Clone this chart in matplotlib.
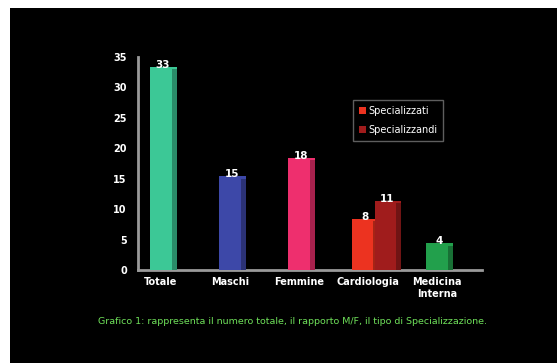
import numpy as np
import matplotlib
matplotlib.use("Agg")
import matplotlib.pyplot as plt
from matplotlib.patches import Rectangle
from matplotlib.colors import to_rgb

categories = ["Totale", "Maschi", "Femmine", "Cardiologia", "Medicina\nInterna"]
single_values = [33, 15, 18, None, 4]
single_colors = ["#3cc896", "#3d48a8", "#ee2f6e", None, "#22a04c"]
cardio_labels = ["Specializzati", "Specializzandi"]
cardio_values = [8, 11]
cardio_colors = ["#ec3320", "#a01c1c"]
yticks = [0, 5, 10, 15, 20, 25, 30, 35]
caption = "Grafico 1: rappresenta il numero totale, il rapporto M/F, il tipo di Specializzazione."


def darker(c, f=0.7):
    r, g, b = to_rgb(c)
    return (r * f, g * f, b * f)


def bar3d(ax, x, h, w, color, label=None):
    # front face plus a darker side strip to fake the 3D look
    ax.bar(x, h, width=w, color=color, align="center", label=label, zorder=3)
    ax.bar(x + w * 0.5, h, width=w * 0.25, color=darker(color), align="edge", zorder=3)
    ax.bar(x - w * 0.5, 0.4, bottom=h, width=w * 1.25, color=color, align="edge", zorder=3)
    ax.text(x + w * 0.1, h - 0.1, str(h), color="white", fontsize=7.5,
            fontweight="bold", ha="center", va="bottom", zorder=4)


fig = plt.figure(figsize=(5.57, 3.63), dpi=100, facecolor="white")
fig.patches.append(Rectangle((10 / 557, 0), 1, 1 - 8 / 363, transform=fig.transFigure,
                             facecolor="black", edgecolor="none", zorder=-5))
ax = fig.add_axes([138 / 557, 1 - 270 / 363, (482 - 138) / 557, (270 - 57) / 363])
ax.set_facecolor("black")
ax.patch.set_alpha(0)

x = np.arange(len(categories))
w = 0.31
for i, (v, c) in enumerate(zip(single_values, single_colors)):
    if v is not None:
        bar3d(ax, x[i], v, w, c)
bar3d(ax, x[3] - 0.08, cardio_values[0], w, cardio_colors[0], cardio_labels[0])
bar3d(ax, x[3] + 0.25, cardio_values[1], w, cardio_colors[1], cardio_labels[1])

ax.set_xlim(-0.33, 4.65)
ax.set_ylim(0, 35)
ax.set_yticks(yticks)
ax.set_xticks(x)
ax.set_xticklabels(categories)
ax.tick_params(colors="white", length=0, labelsize=7)
for lab in ax.get_xticklabels() + ax.get_yticklabels():
    lab.set_fontweight("bold")
    lab.set_color("white")
ax.tick_params(axis="y", pad=8)
ax.tick_params(axis="x", pad=5)
for s in ["top", "right"]:
    ax.spines[s].set_visible(False)
for s in ["left", "bottom"]:
    ax.spines[s].set_color("#9a9a9a")
    ax.spines[s].set_linewidth(2)

leg = ax.legend(loc="upper left", bbox_to_anchor=(0.61, 0.82), frameon=True,
                fontsize=7, handlelength=0.8, handleheight=0.8, handletextpad=0.2,
                labelspacing=0.9, borderpad=0.6, labelcolor="white")
leg.get_frame().set_facecolor("black")
leg.get_frame().set_edgecolor("#777777")
leg.get_frame().set_boxstyle("square", pad=0)

fig.text(292 / 557, 1 - 322 / 363, caption, color="#6fe05a", fontsize=6.8,
         ha="center", va="center")

fig.savefig("out.png", dpi=100, facecolor=fig.get_facecolor())
